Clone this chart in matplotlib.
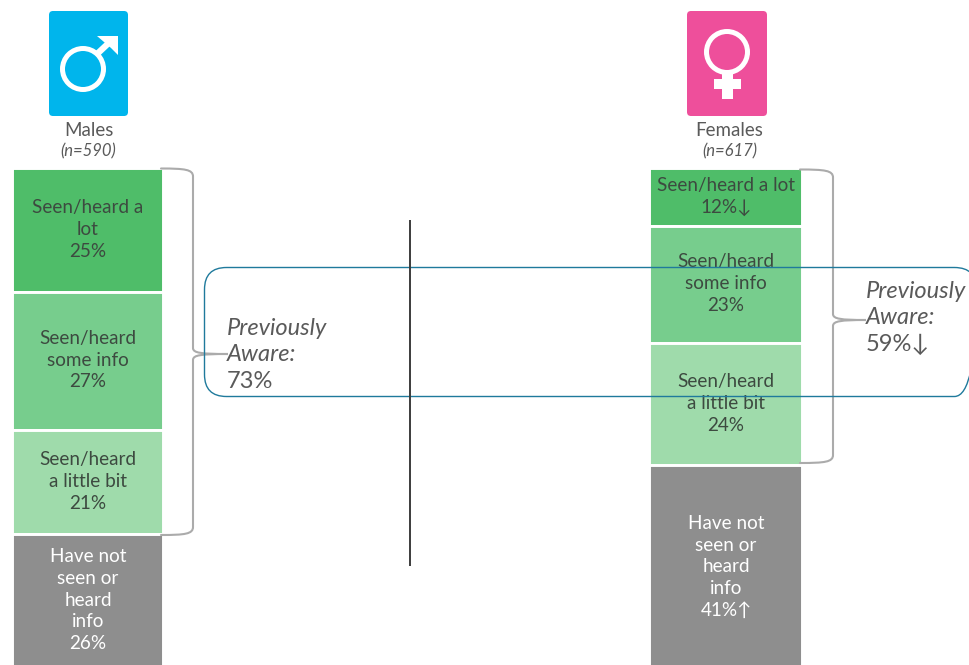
import matplotlib
matplotlib.use("Agg")
import matplotlib.pyplot as plt
from matplotlib.patches import FancyBboxPatch, Circle, Rectangle, PathPatch, Polygon
from matplotlib.path import Path

plt.rcParams['font.family'] = ['Lato', 'DejaVu Sans']

# ---- data ----
male_values = [24.7, 27.6, 20.9, 26.6]
female_values = [11.5, 23.4, 24.5, 41.0]
male_labels = ["Seen/heard a\nlot\n25%", "Seen/heard\nsome info\n27%",
               "Seen/heard\na little bit\n21%", "Have not\nseen or\nheard\ninfo\n26%"]
female_labels = ["Seen/heard a lot\n12%↓", "Seen/heard\nsome info\n23%",
                 "Seen/heard\na little bit\n24%", "Have not\nseen or\nheard\ninfo\n41%↑"]
segment_colors = ["#4fbd69", "#77cd8d", "#9fdbab", "#8e8e8e"]
text_colors = ["#3d4a40", "#3d4a40", "#3d4a40", "#ffffff"]
male_total = "73%"
female_total = "59%↓"

fig = plt.figure(figsize=(9.69, 6.65), dpi=100)
ax = fig.add_axes([0, 0, 1, 1])
ax.set_xlim(0, 969)
ax.set_ylim(99.4, -33.6)
ax.axis("off")

ov = fig.add_axes([0, 0, 1, 1], zorder=5)
ov.set_xlim(0, 969)
ov.set_ylim(665, 0)
ov.axis("off")
ov.patch.set_alpha(0)


def stack(center, width, values, labels, fs):
    bottom = 0
    for v, lab, c, tc in zip(values, labels, segment_colors, text_colors):
        ax.bar(center, v, width=width, bottom=bottom, color=c, edgecolor="white", linewidth=2.1)
        ax.text(center, bottom + v / 2 - 0.1, lab, ha="center", va="center", fontsize=fs,
                color=tc, linespacing=1.34)
        bottom += v


stack(88, 151, male_values, male_labels, 13.6)
stack(726, 153, female_values, female_labels, 13.6)


def brace(x0, xv, xtip, ytop, ytip, ybot):
    verts = [(x0, ytop), (xv - 8, ytop), (xv, ytop + 1), (xv, ytop + 8),
             (xv, ytip - 6), (xv, ytip - 1), (xv + 8, ytip), (xtip, ytip),
             (xv + 8, ytip), (xv, ytip + 1), (xv, ytip + 6),
             (xv, ybot - 8), (xv, ybot - 1), (xv - 8, ybot), (x0, ybot)]
    codes = [Path.MOVETO, Path.CURVE4, Path.CURVE4, Path.CURVE4,
             Path.LINETO, Path.CURVE4, Path.CURVE4, Path.CURVE4,
             Path.CURVE4, Path.CURVE4, Path.CURVE4,
             Path.LINETO, Path.CURVE4, Path.CURVE4, Path.CURVE4]
    ov.add_patch(PathPatch(Path(verts, codes), fc="none", ec="#ababab", lw=1.5, capstyle="round"))


brace(161, 193, 228, 168.5, 354, 535)
brace(800, 833, 866, 169.5, 320, 463)

# awareness callout
ov.add_patch(FancyBboxPatch((204.5 + 22, 267.5 + 22), 772 - 44, 129 - 44,
                            boxstyle="round,pad=22,rounding_size=22", fc="none", ec="#1f7a9c", lw=1.0))

# divider
ov.plot([410.5, 410.5], [220, 566], color="#3c3c3c", lw=1.4, solid_capstyle="butt")

# callout text
tk = dict(fontsize=17, color="#5a5a5a", ha="left", va="center")
ov.text(227, 328.5, "Previously", style="italic", **tk)
ov.text(227, 354.5, "Aware:", style="italic", **tk)
ov.text(227, 381, male_total, **tk)
ov.text(866, 292, "Previously", style="italic", **tk)
ov.text(866, 318, "Aware:", style="italic", **tk)
ov.text(866, 344, female_total, **tk)

# headers
hk = dict(ha="center", va="center", color="#5a5a5a")
ov.text(88.5, 130.5, "Males", fontsize=13.5, **hk)
ov.text(88.5, 151.5, "(n=590)", fontsize=12, style="italic", **hk)
ov.text(729.5, 130.5, "Females", fontsize=13.5, **hk)
ov.text(729.5, 151.5, "(n=617)", fontsize=12, style="italic", **hk)

# male icon
ov.add_patch(FancyBboxPatch((52, 14), 73, 99, boxstyle="round,pad=3,rounding_size=4", fc="#00b5ec", ec="none"))
ov.add_patch(Circle((83, 69), 20.5, fc="none", ec="white", lw=3.6))
ov.plot([97, 113], [54, 39], color="white", lw=4.5, solid_capstyle="butt")
ov.add_patch(Polygon([(97, 36), (118, 36), (118, 55), (111, 48), (104, 42)], fc="white", ec="none"))

# female icon
ov.add_patch(FancyBboxPatch((690, 14), 74, 99, boxstyle="round,pad=3,rounding_size=4", fc="#ee4f9b", ec="none"))
ov.add_patch(Circle((727, 52), 20.5, fc="none", ec="white", lw=3.6))
ov.add_patch(Rectangle((722, 73), 11, 26, fc="white", ec="none"))
ov.add_patch(Rectangle((714, 79), 27, 10, fc="white", ec="none"))

fig.savefig("out.png", dpi=100)
